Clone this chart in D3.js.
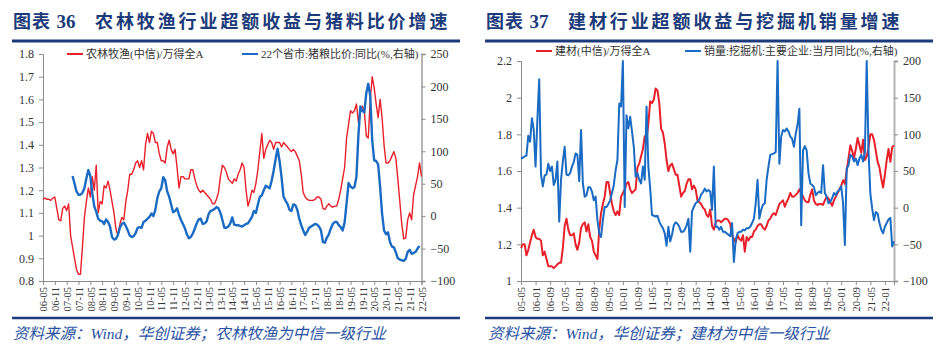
<!DOCTYPE html>
<html><head><meta charset="utf-8">
<script src="https://cdn.jsdelivr.net/npm/d3@7"></script>
<style>
html,body{margin:0;padding:0;background:#fff;}
svg{display:block;}
</style></head>
<body>
<script>
// ---------- DATA ----------
const leftTitleNum = "36";
const leftTitleText = "农林牧渔行业超额收益与猪料比价增速";
const rightTitleNum = "37";
const rightTitleText = "建材行业超额收益与挖掘机销量增速";
const leftSource = "资料来源：Wind，华创证券；农林牧渔为中信一级行业";
const rightSource = "资料来源：Wind，华创证券；建材为中信一级行业";

const leftSeriesNames = ["农林牧渔(中信)/万得全A", "22个省市:猪粮比价:同比(%,右轴)"];
const rightSeriesNames = ["建材(中信)/万得全A", "销量:挖掘机:主要企业:当月同比(%,右轴)"];

// monthly from 2006-05 to 2022-05
const leftXLabels = ["06-05","06-11","07-05","07-11","08-05","08-11","09-05","09-11","10-05","10-11","11-05","11-11","12-05","12-11","13-05","13-11","14-05","14-11","15-05","15-11","16-05","16-11","17-05","17-11","18-05","18-11","19-05","19-11","20-05","20-11","21-05","21-11","22-05"];
const leftYTicks = [0.8,0.9,1,1.1,1.2,1.3,1.4,1.5,1.6,1.7,1.8];
const leftY2Ticks = [-100,-50,0,50,100,150,200,250];

const agriRatio = [1.16,1.165,1.16,1.16,1.155,1.165,1.17,1.12,1.07,1.065,
1.12,1.13,1.11,1.14,1.0,0.95,0.9,0.85,0.83,0.83,
0.95,1.08,1.15,1.21,1.17,1.26,1.2,1.31,1.1,1.15,
1.14,1.22,1.21,1.24,1.2,1.15,1.1,1.03,1.0,1.05,
1.08,1.07,1.15,1.2,1.27,1.27,1.29,1.32,1.33,1.3,
1.33,1.29,1.4,1.45,1.41,1.46,1.45,1.41,1.41,1.36,
1.33,1.33,1.32,1.39,1.42,1.38,1.36,1.38,1.3,1.21,
1.26,1.26,1.25,1.25,1.25,1.29,1.29,1.25,1.22,1.2,
1.19,1.2,1.19,1.18,1.17,1.16,1.14,1.14,1.16,1.19,
1.26,1.31,1.3,1.28,1.25,1.24,1.23,1.25,1.24,1.27,
1.29,1.32,1.3,1.2,1.13,1.16,1.2,1.19,1.23,1.29,
1.37,1.45,1.34,1.38,1.4,1.42,1.41,1.38,1.41,1.41,
1.41,1.39,1.41,1.4,1.39,1.38,1.37,1.38,1.37,1.35,
1.33,1.27,1.19,1.17,1.16,1.155,1.155,1.155,1.16,1.17,
1.17,1.16,1.12,1.115,1.13,1.14,1.13,1.125,1.13,1.13,
1.16,1.2,1.25,1.3,1.43,1.49,1.55,1.54,1.55,1.58,
1.5,1.55,1.57,1.55,1.44,1.43,1.6,1.7,1.65,1.58,
1.52,1.6,1.52,1.4,1.32,1.32,1.33,1.35,1.37,1.34,
1.25,1.15,1.05,0.985,0.99,1.07,1.1,1.07,1.18,1.22,
1.26,1.32,1.26];

const pigGrainYoY = [null,null,null,null,null,null,null,null,null,null,
null,null,null,null,null,62,50,38,33,33,
36,43,58,71,62,35,15,7,-4,-7,
-8,-12,-5,-9,-16,-32,-36,-35,-29,-18,
-12,-10,-15,-22,-30,-32,-31,-26,-18,-17,
-18,-9,-7,-4,-1,4,0,10,28,38,
43,60,55,38,30,18,6,8,12,2,
-6,-12,-19,-28,-34,-32,-27,-19,-11,-5,
-4,-12,-11,-8,3,8,9,11,14,12,
5,-6,-18,-18,-16,-11,-2,-13,-14,-14,
-15,-16,-14,-12,-11,-6,-1,8,5,18,
30,32,40,47,45,43,55,70,88,104,
85,60,30,24,19,10,8,18,17,10,
-4,-14,-22,-29,-24,-18,-16,-14,-12,-13,
-16,-22,-40,-41,-33,-28,-19,-12,-9,-9,
-14,-17,-22,-10,20,51,46,43,45,61,
125,169,162,160,190,204,185,117,86,85,
80,45,4,-22,-28,-25,-40,-47,-48,-56,
-65,-67,-68,-69,-66,-55,-52,-58,-57,-55,
-50,-46,null];

// monthly from 2005-05
const rightXLabels = ["05-05","06-01","06-09","07-05","08-01","08-09","09-05","10-01","10-09","11-05","12-01","12-09","13-05","14-01","14-09","15-05","16-01","16-09","17-05","18-01","18-09","19-05","20-01","20-09","21-05","22-01"];
const rightYTicks = [1,1.2,1.4,1.6,1.8,2,2.2];
const rightY2Ticks = [-100,-50,0,50,100,150,200];

const buildRatio = [1.18,1.2,1.2,1.14,1.17,1.21,1.25,1.28,1.24,1.23,
1.23,1.22,1.14,1.16,1.12,1.08,1.08,1.08,1.07,1.08,
1.09,1.1,1.1,1.18,1.3,1.34,1.28,1.25,1.25,1.26,
1.2,1.17,1.21,1.29,1.31,1.32,1.27,1.31,1.24,1.22,
1.16,1.14,1.12,1.28,1.37,1.42,1.46,1.54,1.54,1.48,
1.42,1.38,1.36,1.38,1.36,1.46,1.48,1.5,1.53,1.54,
1.5,1.48,1.49,1.5,1.62,1.64,1.68,1.72,1.79,1.77,
1.86,1.98,1.97,1.99,2.05,2.04,1.97,1.83,1.81,1.75,
1.66,1.6,1.63,1.64,1.61,1.58,1.58,1.52,1.46,1.48,
1.49,1.53,1.555,1.555,1.5,1.52,1.5,1.44,1.43,1.42,
1.4,1.39,1.36,1.35,1.39,1.3,1.28,1.32,1.33,1.33,
1.32,1.33,1.34,1.34,1.33,1.31,1.25,1.23,1.21,1.25,
1.23,1.22,1.25,1.16,1.24,1.22,1.24,1.24,1.27,1.28,
1.3,1.31,1.31,1.29,1.28,1.3,1.33,1.34,1.36,1.37,
1.36,1.39,1.42,1.43,1.44,1.405,1.43,1.45,1.48,1.46,
1.46,1.47,1.48,1.5,1.48,1.46,1.44,1.43,1.43,1.47,
1.5,1.44,1.42,1.415,1.42,1.42,1.415,1.44,1.46,1.45,
1.43,1.41,1.44,1.46,1.48,1.5,1.52,1.55,1.53,1.6,
1.67,1.74,1.71,1.67,1.72,1.78,1.74,1.7,1.77,1.66,
1.68,1.73,1.8,1.8,1.77,1.71,1.65,1.62,1.56,1.51,
1.58,1.66,1.72,1.65,1.73,1.74];

const excavatorYoY = [67,68,70,71,98,90,122,106,56,120,
175,45,29,44,45,60,50,56,31,38,
63,-19,38,63,83,45,44,47,56,62,
74,72,36,106,33,15,17,28,28,22,
10,15,-17,-35,-40,-17,1,1,5,10,
20,31,51,65,142,138,200,1,126,108,
124,104,83,42,47,38,33,56,38,138,
56,26,-10,-11,-12,-11,-19,-24,-28,-35,
-52,-26,-46,-37,-24,-20,-22,-26,-33,-33,
-30,-24,-15,-60,-5,1,6,8,11,18,
21,26,22,24,22,-3,56,-26,-26,-30,
-26,-33,-33,-35,-37,-39,-21,-74,-44,-35,
-33,-33,-30,-31,-28,-28,-26,-21,-15,6,
38,-15,-3,4,6,38,56,72,73,74,
76,200,60,97,106,104,108,104,97,94,
83,101,113,135,-24,78,84,78,47,33,
31,28,17,20,22,20,58,20,15,6,
8,13,20,17,22,24,29,6,-51,53,
58,72,70,63,67,58,67,72,63,76,
200,78,19,-1,-17,-6,-8,-21,-30,-35,
-26,-21,-16,-14,-53,-46];

// ---------- DRAW ----------
const W = 942, H = 356;
const RED = "#E8202A", BLUE = "#1A6BC4", NAVY = "#1C3B7A";
const serif = "'Liberation Serif','Times New Roman','Noto Sans CJK SC',serif";
const cjk = "'Liberation Serif','Noto Sans CJK SC',serif";

const svg = d3.select("body").append("svg").attr("width", W).attr("height", H);

function header(x0, x1, num, text, textX) {
  const g = svg.append("g");
  const t = g.append("text").attr("y", 28)
    .attr("fill", NAVY).attr("font-weight", "bold").attr("font-size", 18)
    .attr("font-family", cjk);
  t.append("tspan").attr("x", x0 + 1).attr("letter-spacing", 1).text("图表 ");
  t.append("tspan").attr("font-family", serif).attr("font-size", 19).text(num);
  t.append("tspan").attr("x", textX).attr("letter-spacing", 2.9).text(text);
  g.append("line").attr("x1", x0).attr("x2", x1).attr("y1", 41).attr("y2", 41)
    .attr("stroke", NAVY).attr("stroke-width", 3);
  g.append("line").attr("x1", x0).attr("x2", x1).attr("y1", 318).attr("y2", 318)
    .attr("stroke", NAVY).attr("stroke-width", 2.5);
}

function footer(x0, text) {
  svg.append("text").attr("x", x0 + 1).attr("y", 339)
    .attr("fill", "#2952A3").attr("font-size", 15.5).attr("font-style", "italic")
    .attr("font-family", cjk).text(text);
}

function panel(cfg) {
  const g = svg.append("g");
  const x = d3.scaleLinear().domain([0, cfg.n]).range([cfg.left, cfg.right]);
  const yL = d3.scaleLinear().domain(cfg.yDomain).range([cfg.bottom, cfg.top]);
  const yR = d3.scaleLinear().domain(cfg.y2Domain).range([cfg.bottom, cfg.top]);

  // left axis
  const aL = g.append("g").attr("transform", `translate(${cfg.left},0)`)
    .call(d3.axisLeft(yL).tickValues(cfg.yTicks).tickSize(4).tickPadding(5).tickFormat(d => d3.format("")(+d.toFixed(2))));
  aL.select(".domain").attr("stroke", "#8c8c8c");
  aL.selectAll(".tick line").attr("stroke", "#8c8c8c");
  aL.selectAll("text").attr("font-family", serif).attr("font-size", 12).attr("fill", "#333");

  // right axis
  const aR = g.append("g").attr("transform", `translate(${cfg.right},0)`)
    .call(d3.axisRight(yR).tickValues(cfg.y2Ticks).tickSize(4).tickPadding(5));
  aR.select(".domain").attr("stroke", "#b5b5b5").attr("stroke-width", 2);
  aR.selectAll(".tick line").attr("stroke", "#8c8c8c");
  aR.selectAll("text").attr("font-family", serif).attr("font-size", 12).attr("fill", "#333");

  // bottom axis
  const tickIdx = cfg.xLabels.map((d, i) => i * cfg.step);
  const aB = g.append("g").attr("transform", `translate(0,${cfg.bottom})`)
    .call(d3.axisBottom(x).tickValues(tickIdx).tickSize(4).tickFormat((d, i) => cfg.xLabels[i]));
  aB.select(".domain").attr("stroke", "#8c8c8c");
  aB.selectAll(".tick line").attr("stroke", "#8c8c8c");
  aB.selectAll("text").attr("font-family", serif).attr("font-size", 10.5).attr("fill", "#333")
    .attr("text-anchor", "end").attr("transform", "rotate(-90)")
    .attr("x", -6).attr("y", 0).attr("dy", "0.35em");

  // lines
  const lineL = d3.line().defined(d => d != null).x((d, i) => x(i)).y(d => yL(d));
  const lineR = d3.line().defined(d => d != null).x((d, i) => x(i)).y(d => yR(d));
  g.append("path").datum(cfg.s1).attr("d", lineL).attr("fill", "none")
    .attr("stroke", RED).attr("stroke-width", cfg.w1).attr("stroke-linejoin", "round");
  g.append("path").datum(cfg.s2).attr("d", lineR).attr("fill", "none")
    .attr("stroke", BLUE).attr("stroke-width", cfg.w2).attr("stroke-linejoin", "round");

  // legend
  const lg = g.append("g");
  cfg.legend.forEach((L, k) => {
    lg.append("line").attr("x1", L.x).attr("x2", L.x + 16).attr("y1", cfg.legY).attr("y2", cfg.legY)
      .attr("stroke", k ? BLUE : RED).attr("stroke-width", 2);
    lg.append("text").attr("x", L.x + 19).attr("y", cfg.legY).attr("dy", "0.35em")
      .attr("font-family", cjk).attr("font-size", 11).attr("fill", "#333").text(L.name);
  });
}

header(12, 460, leftTitleNum, leftTitleText, 95);
header(485, 933, rightTitleNum, rightTitleText, 568);

panel({
  n: 192, left: 43, right: 421.5, top: 54, bottom: 281,
  yDomain: [0.8, 1.8], y2Domain: [-100, 250], yTicks: leftYTicks, y2Ticks: leftY2Ticks,
  xLabels: leftXLabels, step: 6, s1: agriRatio, s2: pigGrainYoY, w1: 1.4, w2: 2.4,
  legY: 54, legend: [{x: 67, name: leftSeriesNames[0]}, {x: 242, name: leftSeriesNames[1]}]
});
panel({
  n: 205, left: 521, right: 894, top: 61, bottom: 281,
  yDomain: [1, 2.2], y2Domain: [-100, 200], yTicks: rightYTicks, y2Ticks: rightY2Ticks,
  xLabels: rightXLabels, step: 8, s1: buildRatio, s2: excavatorYoY, w1: 2, w2: 2,
  legY: 51, legend: [{x: 536, name: rightSeriesNames[0]}, {x: 685, name: rightSeriesNames[1]}]
});

footer(12, leftSource);
footer(487, rightSource);
</script>
</body></html>
